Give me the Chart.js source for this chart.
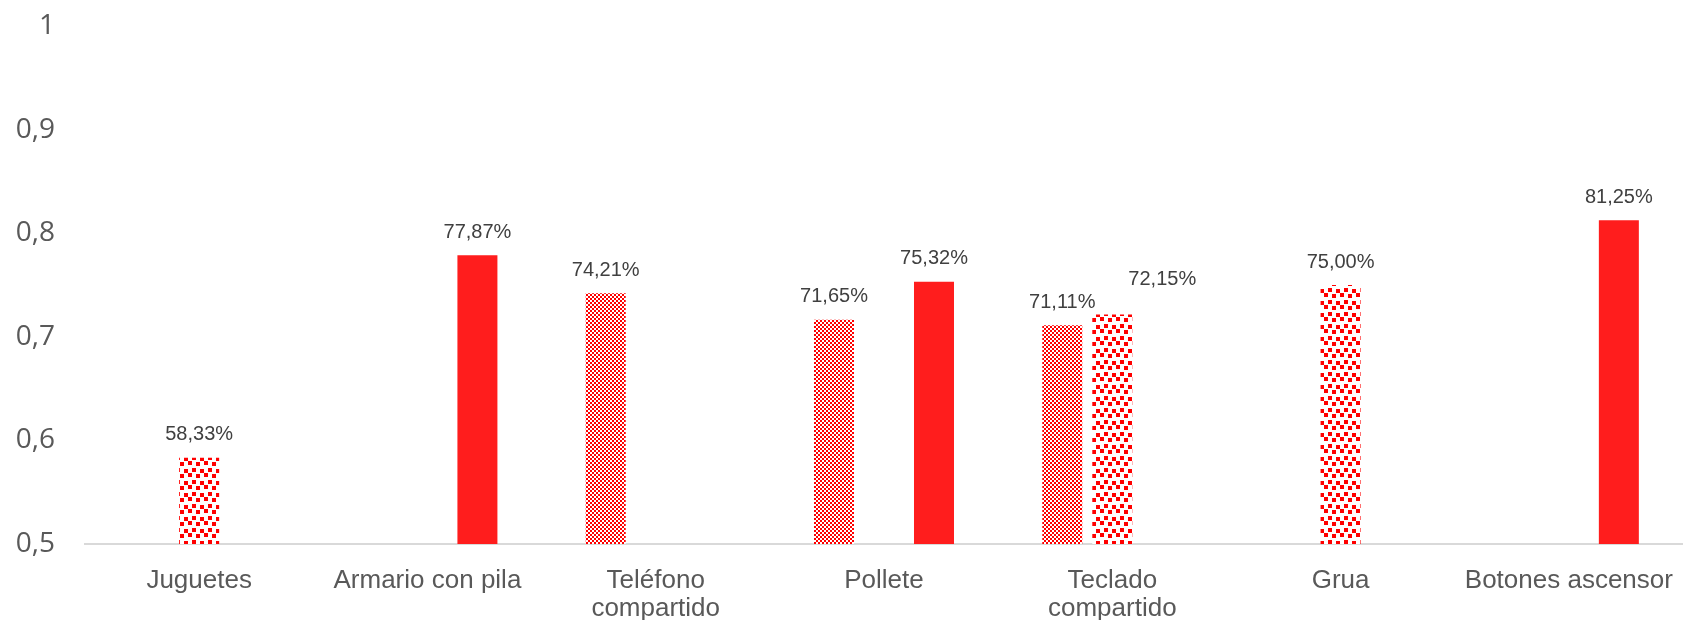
<!DOCTYPE html>
<html>
<head>
<meta charset="utf-8">
<script src="https://cdn.jsdelivr.net/npm/chart.js@4.4.1/dist/chart.umd.min.js"></script>
<style>
  body { margin: 0; background: #fff; }
  #wrap { width: 1683px; height: 620px; }
</style>
</head>
<body>
<div id="wrap"><canvas id="barChart" width="1683" height="620"></canvas></div>
<script>
const categories = [
  'Juguetes',
  'Armario con pila',
  ['Teléfono', 'compartido'],
  'Pollete',
  ['Teclado', 'compartido'],
  'Grua',
  'Botones ascensor'
]
const serieFina = [null, null, 0.7421, 0.7165, 0.7111, null, null]
const serieConfeti = [0.5833, null, null, null, 0.7215, 0.75, null]
const serieSolida = [null, 0.7787, null, 0.7532, null, null, 0.8125]
const yMin = 0.5
const yMax = 1
const yStep = 0.1

// small checker pattern
function checkerPattern() {
  const c = document.createElement('canvas')
  c.width = 4
  c.height = 4
  const g = c.getContext('2d')
  g.fillStyle = '#fff'
  g.fillRect(0, 0, 4, 4)
  g.fillStyle = '#ff0000'
  g.fillRect(0, 0, 2, 2)
  g.fillRect(2, 2, 2, 2)
  return g.createPattern(c, 'repeat')
}

// large confetti pattern
function confettiPattern() {
  const c = document.createElement('canvas')
  c.width = 16
  c.height = 12
  const g = c.getContext('2d')
  g.fillStyle = '#fff'
  g.fillRect(0, 0, 16, 12)
  g.fillStyle = '#ff0000'
  const sq = [[0, 0], [8, 1], [4, 6], [12, 5]]
  sq.forEach(p => g.fillRect(p[0], p[1], 4, 4))
  return g.createPattern(c, 'repeat')
}

function pct(v) {
  return (v * 100).toFixed(2).replace('.', ',') + '%'
}

const barLabels = {
  id: 'barLabels',
  afterDatasetsDraw(chart) {
    const ctx = chart.ctx
    ctx.save()
    ctx.font = '20px "Liberation Sans", Arial, sans-serif'
    ctx.fillStyle = '#404040'
    ctx.textAlign = 'center'
    ctx.textBaseline = 'middle'
    chart.data.datasets.forEach((ds, i) => {
      chart.getDatasetMeta(i).data.forEach((bar, index) => {
        const v = ds.data[index]
        if (v === null) return
        let dx = 0
        let dy = 0
        // label moved aside in the original to avoid overlap
        if (i === 1 && index === 4) { dx = 50; dy = -12 }
        ctx.fillText(pct(v), bar.x + dx, bar.y - 23 + dy)
      })
    })
    ctx.restore()
  }
}

var ctxBar = document.getElementById('barChart').getContext('2d')
var barChart = new Chart(ctxBar, {
  type: 'bar',
  data: {
    labels: categories,
    datasets: [
      {
        label: 'Serie 1',
        data: serieFina,
        backgroundColor: checkerPattern(),
        categoryPercentage: 0.657,
        barPercentage: 0.8
      },
      {
        label: 'Serie 2',
        data: serieConfeti,
        backgroundColor: confettiPattern(),
        categoryPercentage: 0.657,
        barPercentage: 0.8
      },
      {
        label: 'Serie 3',
        data: serieSolida,
        backgroundColor: '#ff1d1d',
        categoryPercentage: 0.657,
        barPercentage: 0.8
      }
    ]
  },
  options: {
    responsive: false,
    animation: false,
    layout: { padding: { top: 26, right: 0, bottom: 0, left: 0 } },
    plugins: {
      legend: { display: false },
      tooltip: { enabled: false }
    },
    scales: {
      x: {
        grid: { display: false, drawTicks: false },
        border: { display: true, color: '#d9d9d9', width: 2 },
        ticks: {
          color: '#595959',
          padding: 23,
          maxRotation: 0,
          autoSkip: false,
          font: { family: '"Liberation Sans", Arial, sans-serif', size: 26, lineHeight: 1.08 }
        },
        afterFit: s => {
          s.height = 76
          s.paddingLeft = 0
          s.paddingRight = 0
        }
      },
      y: {
        min: yMin,
        max: yMax,
        grid: { display: false, drawTicks: false },
        border: { display: false },
        ticks: {
          stepSize: yStep,
          color: '#595959',
          padding: 30,
          font: { family: '"Open Sans", sans-serif', size: 28 },
          callback: v => Number(v.toFixed(1)).toString().replace('.', ',')
        },
        afterFit: s => {
          s.width = 85
          s.paddingTop = 0
          s.paddingBottom = 0
        }
      }
    }
  },
  plugins: [barLabels]
})
</script>
</body>
</html>
